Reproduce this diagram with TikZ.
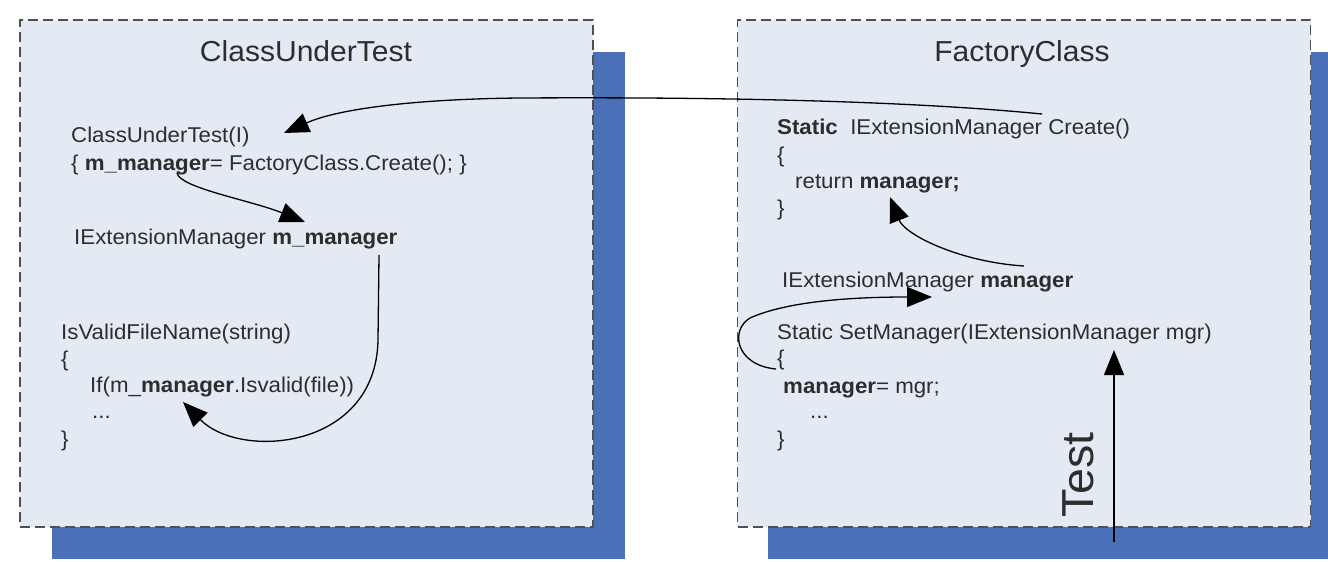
\documentclass[tikz,border=0pt]{standalone}
\usepackage{fontspec}
\setmainfont{Liberation Sans}[FakeStretch=1.04]
\usetikzlibrary{arrows.meta}
\definecolor{boxfill}{RGB}{228,234,244}
\definecolor{shadowblue}{RGB}{74,113,184}
\definecolor{txt}{RGB}{45,45,45}
\definecolor{dashgray}{RGB}{80,80,80}
\begin{document}
\begin{tikzpicture}[x=1bp,y=-1bp,
  code/.style={anchor=base west, inner sep=0pt, text=txt, font=\fontsize{21.5}{25}\selectfont},
  title/.style={anchor=base, inner sep=0pt, text=txt, font=\fontsize{29}{34}\selectfont},
  flow/.style={draw=black, line width=1.3bp, -{Triangle[length=25bp,width=20bp]}},
  classbox/.style={draw=dashgray, fill=boxfill, line width=1.5bp, dash pattern=on 10bp off 5bp, minimum width=573bp, minimum height=507bp, inner sep=0pt},
  shadowbox/.style={fill=shadowblue, draw=none, minimum width=573bp, minimum height=507bp, inner sep=0pt}]
\useasboundingbox (0,0) rectangle (1328,562);
\clip (0,0) rectangle (1328,562);
\fill[white] (0,0) rectangle (1328,562);
% shadows
\node[shadowbox] (cutS) at (338.5,305.5) {};
\node[shadowbox] (fcS) at (1054.5,305.5) {};
% boxes
\node[classbox] (cut) at (306.5,273.5) {};
\node[classbox] (fc) at (1024,273.5) {};
% titles
\node[title] (cutT) at (306,62) {ClassUnderTest};
\node[title] (fcT) at (1022,62) {FactoryClass};
% left code
\node[code] (l1) at (71,143) {ClassUnderTest(I)};
\node[code] (l2) at (71,171) {\{ \textbf{m\_manager}= FactoryClass.Create(); \}};
\node[code] (l3) at (74,245) {IExtensionManager \textbf{m\_manager}};
\node[code] (l4) at (61,339) {IsValidFileName(string)};
\node[code] (l5) at (61,366) {\{};
\node[code] (l6) at (90,392) {If(m\_\textbf{manager}.Isvalid(file))};
\node[code] (l7) at (92,418) {...};
\node[code] (l8) at (61,446) {\}};
% right code
\node[code] (r1) at (777,135) {\textbf{Static}\ \ IExtensionManager Create()};
\node[code] (r2) at (777,163) {\{};
\node[code] (r3) at (795,189) {return \textbf{manager;}};
\node[code] (r4) at (777,216) {\}};
\node[code] (r5) at (782,287) {IExtensionManager \textbf{manager}};
\node[code] (r6) at (777,339) {Static SetManager(IExtensionManager mgr)};
\node[code] (r7) at (777,365) {\{};
\node[code] (r8) at (783,393) {\textbf{manager}= mgr;};
\node[code] (r9) at (810,418) {...};
\node[code] (r10) at (777,446) {\}};
\node[rotate=90, inner sep=0pt, text=txt, font=\fontsize{45}{50}\selectfont] (test) at (1078,475) {Test};
% connector end points
\coordinate (a1s) at (1042,114);
\coordinate (a1e) at (284,133);
\coordinate (a2s) at (177,173);
\coordinate (a2e) at (305,222);
\coordinate (a3s) at (379,255);
\coordinate (a3e) at (183,402);
\coordinate (a4s) at (1024,266);
\coordinate (a4e) at (890,197);
\coordinate (a5s) at (776,369);
\coordinate (a5e) at (932,297);
\coordinate (a6s) at (1114,542);
\coordinate (a6e) at (1114,350);
% connectors
\draw[flow] (a1s) .. controls (900,100) and (700,97) .. (520,98) .. controls (420,99) and (340,108) .. (a1e);
\draw[flow] (a2s) .. controls (180,188) and (250,200) .. (a2e);
\draw[flow] (a3s) -- (378,340) .. controls (376,450) and (240,460) .. (a3e);
\draw[flow] (a4s) .. controls (960,262) and (905,235) .. (a4e);
\draw[flow] (a5s) .. controls (735,365) and (730,330) .. (750,318) .. controls (790,300) and (860,297) .. (a5e);
\draw[flow] (a6s) -- (a6e);
\end{tikzpicture}
\end{document}
